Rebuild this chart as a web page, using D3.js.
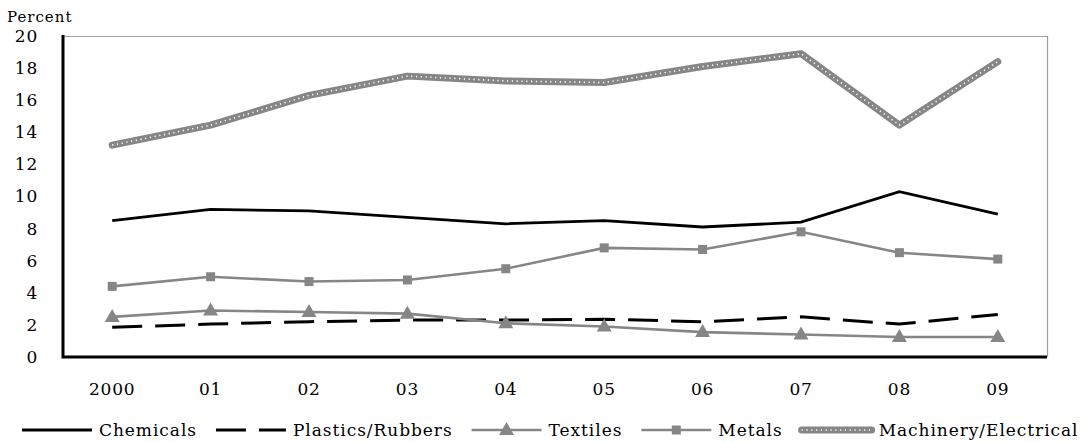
<!DOCTYPE html>
<html>
<head>
<meta charset="utf-8">
<script src="https://cdn.jsdelivr.net/npm/d3@7"></script>
<style>
  body { margin: 0; background: #fff; }
</style>
</head>
<body>
<svg id="chart" width="1089" height="443"></svg>
<script>
// data
var years = ["2000", "01", "02", "03", "04", "05", "06", "07", "08", "09"];
var chemicals = [8.5, 9.2, 9.1, 8.7, 8.3, 8.5, 8.1, 8.4, 10.3, 8.9];
var plastics = [1.85, 2.05, 2.2, 2.3, 2.3, 2.35, 2.2, 2.5, 2.05, 2.65];
var textiles = [2.5, 2.9, 2.8, 2.7, 2.1, 1.9, 1.55, 1.4, 1.25, 1.25];
var metals = [4.4, 5.0, 4.7, 4.8, 5.5, 6.8, 6.7, 7.8, 6.5, 6.1];
var machinery = [13.2, 14.45, 16.3, 17.5, 17.2, 17.1, 18.1, 18.9, 14.45, 18.4];
var yTicks = [0, 2, 4, 6, 8, 10, 12, 14, 16, 18, 20];

var series = [
  {name: "Chemicals", values: chemicals, type: "solid"},
  {name: "Plastics/Rubbers", values: plastics, type: "dash"},
  {name: "Textiles", values: textiles, type: "triangle"},
  {name: "Metals", values: metals, type: "square"},
  {name: "Machinery/Electrical", values: machinery, type: "dotted"}
];

var gray = "#868686";
var font = "DejaVu Serif";
var fontSize = 17, spacing = "0.95px";

//plot box
var margin = {top: 36, right: 42, bottom: 86, left: 63},
    W = 1089, H = 443,
    width = W - margin.left - margin.right,
    height = H - margin.top - margin.bottom;

var svg = d3.select("#chart");
var g = svg.append("g")
  .attr("transform", "translate(" + margin.left + "," + margin.top + ")");

var x = d3.scaleBand().domain(years).range([0, width]);
var y = d3.scaleLinear().domain([0, 20]).range([height, 0]);
var cx = d => x(d) + x.bandwidth() / 2;

//gray frame on top and right
g.append("path")
  .attr("d", "M0,0.5H" + (width + 0.5) + "V" + height)
  .attr("fill", "none")
  .attr("stroke", "#a0a0a0")
  .attr("stroke-width", 1.2);

//y labels
g.selectAll(".ylab")
  .data(yTicks)
  .enter()
  .append("text")
  .attr("x", -25)
  .attr("y", d => y(d))
  .attr("dy", "0.35em")
  .attr("text-anchor", "end")
  .attr("font-family", font)
  .attr("font-size", fontSize)
  .style("letter-spacing", "0.8px")
  .text(d => d);

//x labels
g.selectAll(".xlab")
  .data(years)
  .enter()
  .append("text")
  .attr("x", cx)
  .attr("y", height + 38)
  .attr("text-anchor", "middle")
  .attr("font-family", font)
  .attr("font-size", fontSize)
  .style("letter-spacing", "0.8px")
  .text(d => d);

svg.append("text")
  .attr("x", 7)
  .attr("y", 22)
  .attr("font-family", font)
  .attr("font-size", 15)
  .style("letter-spacing", "1px")
  .text("Percent");

var line = d3.line()
  .x((d, i) => cx(years[i]))
  .y(d => y(d));

function drawSeries(sel, s, pts) {
  if (s.type == "solid") {
    sel.append("path").attr("d", pts).attr("fill", "none")
      .attr("stroke", "#000").attr("stroke-width", 2.8);
  } else if (s.type == "dash") {
    sel.append("path").attr("d", pts).attr("fill", "none")
      .attr("stroke", "#000").attr("stroke-width", 3)
      .attr("stroke-dasharray", "30,13");
  } else if (s.type == "dotted") {
    sel.append("path").attr("d", pts).attr("fill", "none")
      .attr("stroke", gray).attr("stroke-width", 7)
      .attr("stroke-linecap", "round").attr("stroke-linejoin", "round");
    sel.append("path").attr("d", pts).attr("fill", "none")
      .attr("stroke", "#fff").attr("stroke-width", 1.6)
      .attr("stroke-dasharray", "1.2,3.6");
  } else {
    sel.append("path").attr("d", pts).attr("fill", "none")
      .attr("stroke", gray).attr("stroke-width", 2.6);
  }
}

function marker(sel, type, px, py) {
  if (type == "triangle") {
    sel.append("path")
      .attr("d", "M" + px + "," + (py - 8) + "L" + (px + 7.5) + "," + (py + 5) + "L" + (px - 7.5) + "," + (py + 5) + "Z")
      .attr("fill", gray);
  } else if (type == "square") {
    sel.append("rect")
      .attr("x", px - 4.5).attr("y", py - 4.5)
      .attr("width", 9).attr("height", 9)
      .attr("fill", gray);
  }
}

//lines, drawn so machinery sits on top
series.forEach(function(s) {
  var sg = g.append("g");
  drawSeries(sg, s, line(s.values));
  s.values.forEach(function(v, i) {
    marker(sg, s.type, cx(years[i]), y(v));
  });
});

//axes: thick black left and bottom
g.append("path")
  .attr("d", "M0,-1V" + height + "H" + width)
  .attr("fill", "none")
  .attr("stroke", "#000")
  .attr("stroke-width", 3);

//legend
var legY = 430;
var lx = 22;
series.forEach(function(s) {
  var lg = svg.append("g");
  var pts = "M" + lx + "," + legY + "H" + (lx + 70);
  drawSeries(lg, s, pts);
  marker(lg, s.type, lx + 35, legY);
  var t = lg.append("text")
    .attr("x", lx + 77)
    .attr("y", legY)
    .attr("dy", "0.33em")
    .attr("font-family", font)
    .attr("font-size", fontSize)
    .style("letter-spacing", spacing)
    .text(s.name);
  lx = lx + 77 + t.node().getComputedTextLength() + 19;
});
</script>
</body>
</html>
